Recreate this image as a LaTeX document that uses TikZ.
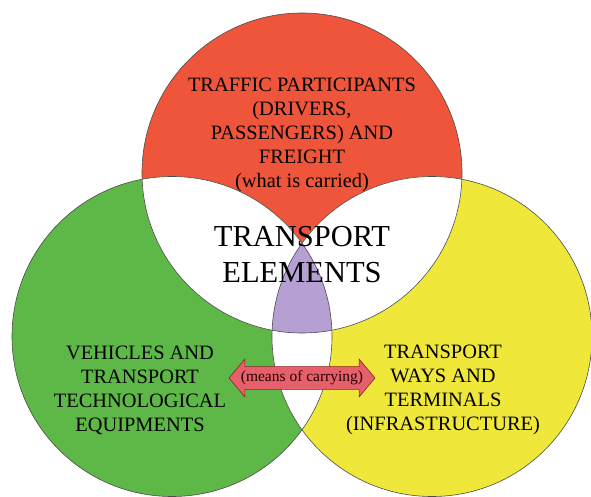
\documentclass[tikz,border=0pt]{standalone}
\usepackage{fontspec}
\setmainfont{Liberation Serif}
\usetikzlibrary{shapes.arrows}
\definecolor{redset}{HTML}{EF553A}
\definecolor{greenset}{HTML}{5DB848}
\definecolor{yellowset}{HTML}{EFE83B}
\definecolor{coreset}{HTML}{B69FD3}
\definecolor{arrowfill}{HTML}{E5606A}
\definecolor{arrowline}{HTML}{8E1F22}
\begin{document}
\begin{tikzpicture}[x=1pt,y=-1pt,
  setline/.style={draw=black!70, line width=0.6pt},
  setlabel/.style={align=center, inner sep=0pt, text=black,
    font=\fontsize{20.4}{24}\selectfont},
  titlelabel/.style={align=center, inner sep=0pt, text=black,
    font=\fontsize{30.5}{36}\selectfont},
  carryarrow/.style={double arrow, draw=arrowline, fill=arrowfill,
    line width=0.6pt, double arrow head extend=7.5pt,
    double arrow tip angle=100, inner xsep=2pt, inner ysep=4pt,
    minimum height=141pt, text=black!85!red,
    font=\fontsize{15.5}{15.5}\selectfont}]
\useasboundingbox (0,0) rectangle (591,497);
% circle centres
\coordinate (cr) at (302,173);
\coordinate (cg) at (172,336.5);
\coordinate (cy) at (432,336.5);
% coloured sets
\fill[redset]    (cr) circle[radius=160pt];
\fill[greenset]  (cg) circle[radius=160pt];
\fill[yellowset] (cy) circle[radius=160pt];
% pairwise overlaps
\begin{scope}
  \clip (cr) circle[radius=160pt];
  \fill[white] (cg) circle[radius=160pt];
  \fill[white] (cy) circle[radius=160pt];
\end{scope}
\begin{scope}
  \clip (cg) circle[radius=160pt];
  \fill[white] (cy) circle[radius=160pt];
  \clip (cr) circle[radius=160pt];
  \fill[coreset] (cy) circle[radius=160pt];
\end{scope}
% outlines
\draw[setline] (cr) circle[radius=160pt];
\draw[setline] (cg) circle[radius=160pt];
\draw[setline] (cy) circle[radius=160pt];
% labels
\node[setlabel] (participants) at (302,135)
  {TRAFFIC PARTICIPANTS\\(DRIVERS,\\PASSENGERS) AND\\FREIGHT\\(what is carried)};
\node[titlelabel] (title) at (302,255) {TRANSPORT\\ELEMENTS};
\node[setlabel] (vehicles) at (140,390)
  {VEHICLES AND\\TRANSPORT\\TECHNOLOGICAL\\EQUIPMENTS};
\node[setlabel] (ways) at (443,390)
  {TRANSPORT\\WAYS AND\\TERMINALS\\(INFRASTRUCTURE)};
\node[carryarrow] (carry) at (302,378) {(means of carrying)};
\end{tikzpicture}
\end{document}
